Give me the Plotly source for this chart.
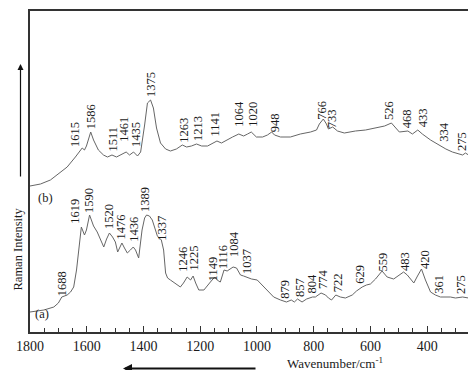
import plotly.graph_objects as go

# Raman spectra: wavenumber (cm-1) and relative intensity (curve b drawn offset above curve a)
wn_b = [1800, 1763, 1728, 1669, 1640, 1622, 1616, 1608, 1601, 1586, 1576, 1559, 1541, 1527,
        1511, 1495, 1481, 1461, 1449, 1435, 1421, 1410, 1396, 1386, 1375, 1365, 1354, 1340,
        1322, 1305, 1284, 1263, 1248, 1231, 1213, 1195, 1174, 1157, 1141, 1125, 1107, 1086,
        1064, 1047, 1033, 1020, 1002, 980, 963, 948, 938, 917, 882, 847, 811, 790, 780, 766,
        755, 748, 733, 716, 692, 653, 617, 582, 550, 526, 512, 498, 468, 452, 433, 417, 388,
        360, 334, 311, 290, 275, 265, 254]
int_b = [146, 148, 152, 165, 175, 182, 184, 182, 186, 200, 192, 182, 177, 175,
         177, 175, 177, 180, 177, 180, 176, 180, 207, 229, 232, 224, 204, 189,
         183, 181, 183, 187, 185, 186, 188, 186, 186, 189, 191, 189, 192, 195,
         198, 196, 198, 200, 195, 195, 197, 200, 197, 195, 195, 198, 200, 202, 208, 213,
         208, 203, 205, 201, 199, 201, 202, 204, 206, 209, 204, 200, 201, 198, 202, 198, 192,
         187, 183, 180, 178, 177, 179, 177]

wn_a = [1800, 1751, 1716, 1700, 1688, 1669, 1657, 1646, 1636, 1628, 1619, 1608, 1601, 1590,
        1576, 1563, 1552, 1540, 1530, 1520, 1509, 1499, 1491, 1476, 1467, 1457, 1446, 1436,
        1428, 1417, 1405, 1396, 1389, 1379, 1369, 1361, 1351, 1337, 1329, 1322, 1315, 1305,
        1287, 1270, 1259, 1246, 1234, 1225, 1216, 1205, 1187, 1174, 1164, 1149, 1136, 1129,
        1116, 1105, 1093, 1084, 1072, 1058, 1047, 1037, 1019, 999, 976, 959, 941, 917, 896,
        879, 868, 857, 841, 825, 804, 794, 774, 758, 748, 737, 722, 706, 688, 664, 649, 629,
        614, 600, 582, 559, 541, 518, 501, 483, 470, 459, 447, 434, 420, 406, 388, 371, 361,
        353, 318, 300, 275, 254]
int_a = [20, 22, 25, 29, 35, 37, 40, 45, 62, 85, 105, 97, 102, 117,
         106, 100, 92, 85, 93, 99, 95, 90, 80, 89, 84, 79, 82, 85,
         82, 74, 102, 114, 117, 116, 112, 104, 96, 92, 82, 59, 54, 52,
         48, 45, 49, 55, 52, 56, 49, 42, 42, 46, 50, 55, 51, 50,
         62, 61, 63, 65, 64, 57, 56, 55, 53, 52, 45, 40, 35, 32, 30,
         32, 30, 33, 30, 33, 35, 35, 39, 37, 34, 32, 37, 35, 34, 37, 41, 45,
         47, 48, 53, 61, 55, 53, 56, 60, 57, 53, 49, 56, 63, 52, 40, 37, 36,
         35, 35, 34, 35, 34]

# Assigned band positions (cm-1)
peaks_b = [1615, 1586, 1511, 1461, 1435, 1375, 1263, 1213, 1141, 1064, 1020, 948,
           766, 733, 526, 468, 433, 334, 275]
peaks_a = [1688, 1619, 1590, 1520, 1476, 1436, 1389, 1337, 1246, 1225, 1149, 1116,
           1084, 1037, 879, 857, 804, 774, 722, 629, 559, 483, 420, 361, 275]

x_ticks = [1800, 1600, 1400, 1200, 1000, 800, 600, 400]

# Label placement: horizontal nudge (px) and height of the label foot (intensity units)
nudge_b = [-8, 0, 1, -3, 2, 0, 1, 1, -2, 0, 1, 3, -2, -1, -3, -1, 5, -2, -1]
foot_b = [184, 202, 180, 189, 184, 234, 188, 190, 195, 204, 204, 199, 211, 203, 211, 203,
          204, 189, 180]
nudge_a = [0, -7, -1, -1, -1, 0, -2, 0, -5, 0, -2, -1, 1, 0, -7, 2, -1, 2, 2, -3, 0, 1, 3, 0, -2]
foot_a = [35, 107, 118, 102, 92, 89, 119, 90, 59, 60, 50, 62, 74, 57, 32, 34, 37, 42, 39,
          47, 59, 60, 62, 37, 37]

FONT = "Liberation Serif"
INK = "#1a1a1a"
AXIS = "#333333"
CURVE = "#666666"

# plot area in pixels: left edge 30, width 438, bottom 332, height 321
def px_x(px):
    return (px - 30) / 438

def px_y(py):
    return (332 - py) / 321

fig = go.Figure()
for xs, ys in ((wn_b, int_b), (wn_a, int_a)):
    fig.add_trace(go.Scatter(x=xs, y=ys, mode="lines",
                             line=dict(color=CURVE, width=1), hoverinfo="skip"))

annotations = []
for peaks, nudges, feet in ((peaks_b, nudge_b, foot_b), (peaks_a, nudge_a, foot_a)):
    for p, dx, fy in zip(peaks, nudges, feet):
        annotations.append(dict(x=p, y=fy, xref="x", yref="y", text=str(p),
                                textangle=-90, showarrow=False, xanchor="center",
                                yanchor="bottom", xshift=dx, borderpad=0,
                                font=dict(family=FONT, size=12.5, color=INK)))

# curve tags
annotations.append(dict(xref="paper", x=px_x(45), xanchor="center", yref="paper",
                        y=px_y(198), text="(b)", showarrow=False,
                        font=dict(family=FONT, size=12.5, color=INK)))
annotations.append(dict(xref="paper", x=px_x(42), xanchor="center", yref="paper",
                        y=px_y(322.5), text="(a)", showarrow=False,
                        font=dict(family=FONT, size=12.5, color=INK)))

# axis titles and direction arrows
annotations.append(dict(xref="paper", x=px_x(335), yref="paper", y=px_y(371.5),
                        xanchor="center", yanchor="bottom", showarrow=False, borderpad=0,
                        text="Wavenumber/cm<sup>-1</sup>",
                        font=dict(family=FONT, size=13, color=INK)))
annotations.append(dict(xref="paper", x=px_x(17.5), yref="paper", y=px_y(249),
                        xanchor="center", yanchor="middle", showarrow=False, textangle=-90,
                        text="Raman Intensity", font=dict(family=FONT, size=12.5, color=INK)))
annotations.append(dict(xref="paper", x=px_x(123), yref="paper", y=px_y(368.5),
                        ax=134, ay=0, text="", showarrow=True, arrowhead=2, arrowsize=1,
                        arrowwidth=1.8, arrowcolor="#111111", standoff=0))
annotations.append(dict(xref="paper", x=px_x(20.5), yref="paper", y=px_y(64),
                        ax=0, ay=114, text="", showarrow=True, arrowhead=2, arrowsize=1,
                        arrowwidth=1.2, arrowcolor="#111111", standoff=0))

fig.update_layout(
    width=468, height=370,
    margin=dict(l=30, r=0, t=11, b=38),
    paper_bgcolor="white", plot_bgcolor="white",
    showlegend=False,
    annotations=annotations,
    font=dict(family=FONT, color=INK),
)
fig.update_xaxes(range=[1800, 256], tickvals=x_ticks, ticks="inside", ticklen=6,
                 tickwidth=1.3, tickcolor=AXIS, showline=True, linecolor=AXIS, linewidth=1.5,
                 mirror=True, showgrid=False, zeroline=False,
                 tickfont=dict(family=FONT, size=14, color=INK), ticklabelstandoff=0,
                 minor=dict(dtick=50, tick0=0, ticks="inside", ticklen=4, tickwidth=1.2,
                            tickcolor=AXIS, showgrid=False))
fig.update_yaxes(range=[0, 321], showticklabels=False, ticks="", showline=True,
                 linecolor=AXIS, linewidth=1.5, showgrid=False, zeroline=False)

fig.write_html("out.html")
